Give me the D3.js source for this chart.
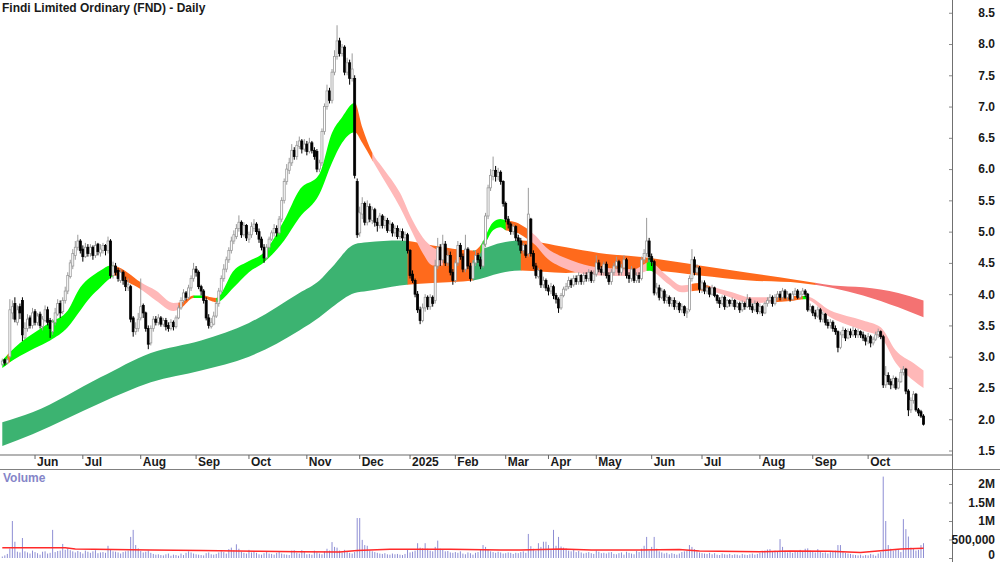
<!DOCTYPE html>
<html>
<head>
<meta charset="utf-8">
<script src="https://cdn.jsdelivr.net/npm/d3@7"></script>
<style>
  body { margin: 0; background: #fff; }
  text { font-family: "Liberation Sans Narrow", "Arial Narrow", "Liberation Sans", Arial, sans-serif; font-weight: bold; }
</style>
</head>
<body>
<div id="chart"></div>
<script>
// ---- data (one entry per trading day, May 2024 .. Oct 2025) ----
const opens = [2.88,2.95,2.90,3.00,3.70,3.85,3.55,3.80,3.90,3.30,
3.45,3.62,3.50,3.72,3.55,3.68,3.48,3.58,3.75,3.58,
3.40,3.55,3.68,3.85,3.72,3.90,4.05,4.28,4.45,4.62,
4.75,4.85,4.72,4.60,4.75,4.65,4.75,4.62,4.80,4.66,
4.70,4.78,4.70,4.85,4.30,4.45,4.38,4.22,4.35,4.22,
4.10,4.12,3.62,3.40,3.45,3.62,3.82,3.70,3.45,3.22,
3.45,3.60,3.55,3.62,3.52,3.58,3.50,3.45,3.55,3.48,
3.62,3.78,3.90,4.02,3.95,4.10,4.25,4.40,4.35,4.12,
4.05,3.90,3.62,3.48,3.52,3.65,3.85,4.05,4.25,4.40,
4.55,4.70,4.85,4.92,5.05,5.15,4.95,5.10,4.88,4.95,
5.05,5.12,5.00,4.88,4.75,4.58,4.75,4.88,4.98,5.05,
4.98,5.20,5.50,5.80,5.98,6.10,6.30,6.20,6.36,6.45,
6.32,6.40,6.28,6.42,6.30,6.28,6.00,6.10,6.60,7.00,
7.25,7.10,7.55,7.80,8.05,7.85,7.95,7.55,7.70,7.45,
7.45,5.80,4.98,5.28,5.45,5.15,5.40,5.18,5.35,5.15,
5.10,5.25,5.10,5.18,5.02,5.12,4.98,5.05,4.92,5.00,
4.90,4.95,4.70,4.32,4.22,4.00,3.75,3.58,3.78,3.95,
3.80,3.95,3.90,4.45,4.75,4.55,4.80,4.50,4.62,4.35,
4.22,4.50,4.78,4.60,4.40,4.72,4.45,4.25,4.50,4.62,
4.55,4.45,4.80,5.25,5.70,5.88,5.98,5.88,5.95,5.80,
5.45,5.20,5.12,5.00,5.08,4.90,4.85,4.70,4.78,4.65,
5.20,4.65,4.45,4.28,4.38,4.15,4.22,4.10,4.05,4.12,
3.98,3.92,3.78,3.98,4.08,4.12,4.22,4.15,4.25,4.20,
4.30,4.20,4.30,4.25,4.35,4.22,4.32,4.50,4.40,4.35,
4.48,4.30,4.20,4.35,4.45,4.52,4.35,4.42,4.55,4.30,
4.25,4.40,4.22,4.30,4.25,4.55,4.65,4.85,4.60,4.52,
4.02,4.10,3.95,4.05,3.90,3.95,3.85,3.90,3.80,3.85,
3.75,3.80,3.70,3.75,4.25,4.55,4.35,4.42,4.08,4.18,
4.05,4.10,4.00,4.10,3.98,3.90,3.85,3.95,3.80,3.90,
3.85,3.90,3.80,3.85,3.75,3.85,3.80,3.92,3.80,3.75,
3.85,3.72,3.80,3.70,3.85,3.90,3.95,3.85,3.95,4.00,
3.95,4.05,3.95,4.00,3.92,4.00,4.05,3.95,4.00,4.05,
4.00,3.75,3.80,3.70,3.65,3.75,3.60,3.68,3.55,3.50,
3.55,3.45,3.40,3.15,3.35,3.42,3.30,3.40,3.35,3.42,
3.35,3.40,3.35,3.30,3.25,3.32,3.22,3.28,3.35,3.40,
3.32,2.55,2.70,2.60,2.55,2.65,2.50,2.60,2.75,2.80,
2.45,2.15,2.30,2.40,2.15,2.12,2.05];

const highs = [2.97,2.97,2.98,3.92,3.90,3.95,3.82,3.85,3.95,3.55,
3.68,3.66,3.78,3.76,3.70,3.72,3.65,3.82,3.80,3.62,
3.60,3.78,3.92,3.90,3.95,4.12,4.35,4.55,4.72,4.85,
4.95,4.88,4.78,4.82,4.80,4.80,4.78,4.85,4.82,4.80,
4.82,4.80,4.92,4.88,4.52,4.50,4.42,4.40,4.38,4.28,
4.25,4.15,3.65,3.55,3.70,4.25,3.85,3.72,3.50,3.50,
3.65,3.65,3.68,3.65,3.62,3.62,3.55,3.60,3.58,3.66,
3.82,3.95,4.08,4.05,4.15,4.30,4.50,4.45,4.38,4.15,
4.08,3.95,3.68,3.62,3.72,3.90,4.10,4.30,4.48,4.60,
4.75,4.92,5.02,5.12,5.26,5.18,5.15,5.12,5.00,5.15,
5.20,5.15,5.05,4.92,4.80,4.80,4.92,5.02,5.12,5.10,
5.25,5.55,5.85,6.08,6.18,6.40,6.35,6.45,6.52,6.48,
6.48,6.45,6.50,6.45,6.35,6.32,6.15,6.65,7.05,7.35,
7.30,7.60,7.90,8.30,8.10,8.00,7.98,7.78,7.75,7.85,
7.50,5.85,5.40,5.55,5.48,5.50,5.45,5.40,5.38,5.22,
5.30,5.28,5.25,5.22,5.18,5.15,5.10,5.10,5.05,5.05,
5.00,4.98,4.72,4.38,4.25,4.05,3.80,3.85,4.00,3.98,
4.00,3.98,4.55,4.90,4.80,4.95,4.85,4.70,4.68,4.40,
4.55,4.85,4.82,4.65,4.95,4.75,4.50,4.55,4.70,4.66,
4.60,4.85,5.30,5.75,6.00,6.20,6.05,6.02,5.98,5.82,
5.48,5.25,5.15,5.12,5.10,4.95,4.90,4.82,4.80,5.70,
5.22,4.70,4.50,4.42,4.40,4.28,4.25,4.15,4.18,4.15,
4.02,3.95,4.02,4.12,4.18,4.28,4.25,4.30,4.30,4.35,
4.32,4.35,4.35,4.40,4.38,4.38,4.62,4.55,4.45,4.52,
4.52,4.35,4.40,4.50,4.60,4.55,4.48,4.62,4.58,4.35,
4.45,4.42,4.35,4.35,4.60,4.72,5.22,4.90,4.65,4.55,
4.18,4.15,4.10,4.08,4.00,3.98,3.95,3.95,3.90,3.88,
3.85,3.82,3.78,4.30,4.72,4.60,4.48,4.45,4.22,4.22,
4.15,4.12,4.15,4.12,4.00,3.95,3.98,3.98,3.92,3.92,
3.95,3.92,3.88,3.88,3.90,3.88,4.00,3.95,3.85,3.90,
3.88,3.85,3.82,3.88,3.95,4.00,3.98,4.00,4.05,4.05,
4.10,4.08,4.05,4.02,4.05,4.10,4.08,4.05,4.10,4.08,
4.02,3.85,3.82,3.75,3.80,3.78,3.72,3.70,3.60,3.60,
3.58,3.50,3.42,3.40,3.48,3.45,3.45,3.45,3.48,3.45,
3.45,3.42,3.40,3.35,3.38,3.35,3.32,3.40,3.45,3.42,
3.35,2.85,2.75,2.65,2.70,2.68,2.65,2.80,2.85,2.82,
2.48,2.35,2.45,2.42,2.18,2.15,2.08];

const lows = [2.85,2.86,2.88,2.98,3.60,3.55,3.50,3.60,3.25,3.28,
3.40,3.45,3.45,3.50,3.50,3.45,3.42,3.55,3.50,3.30,
3.35,3.50,3.65,3.62,3.68,3.85,4.00,4.25,4.40,4.55,
4.70,4.65,4.52,4.58,4.60,4.60,4.55,4.58,4.62,4.60,
4.65,4.62,4.65,4.25,4.25,4.30,4.20,4.18,4.15,4.05,
4.05,3.55,3.32,3.35,3.40,3.58,3.62,3.40,3.12,3.18,
3.40,3.50,3.50,3.48,3.48,3.42,3.40,3.42,3.42,3.45,
3.60,3.75,3.85,3.90,3.92,4.05,4.20,4.28,4.08,3.98,
3.85,3.58,3.45,3.45,3.50,3.62,3.80,4.00,4.20,4.35,
4.50,4.65,4.80,4.88,5.00,4.90,4.92,4.85,4.82,4.90,
5.00,4.95,4.82,4.70,4.50,4.55,4.70,4.85,4.92,4.92,
4.95,5.15,5.45,5.75,5.92,6.05,6.15,6.15,6.32,6.25,
6.28,6.22,6.25,6.25,6.15,5.95,5.95,6.05,6.55,6.95,
7.05,7.05,7.50,7.75,7.80,7.80,7.50,7.50,7.35,7.40,
5.85,4.90,4.92,5.20,5.10,5.10,5.15,5.12,5.08,5.00,
5.05,5.05,5.05,4.98,5.00,4.92,4.92,4.88,4.88,4.85,
4.85,4.65,4.25,4.18,3.95,3.70,3.52,3.55,3.72,3.75,
3.75,3.80,3.85,4.40,4.45,4.50,4.45,4.45,4.30,4.15,
4.18,4.45,4.55,4.35,4.35,4.40,4.20,4.22,4.45,4.50,
4.40,4.42,4.75,5.20,5.65,5.82,5.80,5.82,5.75,5.40,
5.15,5.05,4.95,4.95,4.85,4.78,4.65,4.65,4.58,4.60,
4.60,4.40,4.25,4.25,4.10,4.10,4.05,3.98,4.00,3.92,
3.85,3.70,3.75,3.95,4.05,4.08,4.10,4.12,4.15,4.15,
4.15,4.15,4.20,4.20,4.18,4.18,4.28,4.35,4.30,4.30,
4.25,4.15,4.15,4.30,4.40,4.30,4.30,4.38,4.25,4.18,
4.20,4.18,4.18,4.18,4.22,4.50,4.60,4.55,4.45,3.98,
3.98,3.90,3.92,3.85,3.85,3.80,3.80,3.75,3.75,3.70,
3.70,3.65,3.62,3.72,4.20,4.30,4.30,4.02,4.02,4.00,
4.00,3.95,3.98,3.95,3.85,3.78,3.82,3.75,3.78,3.80,
3.80,3.75,3.78,3.70,3.72,3.75,3.78,3.75,3.70,3.72,
3.68,3.68,3.65,3.68,3.80,3.85,3.80,3.82,3.90,3.90,
3.90,3.92,3.90,3.88,3.90,3.98,3.92,3.92,3.98,3.95,
3.72,3.72,3.65,3.60,3.62,3.55,3.55,3.50,3.45,3.45,
3.40,3.35,3.07,3.12,3.30,3.25,3.28,3.30,3.32,3.30,
3.30,3.30,3.25,3.18,3.20,3.15,3.18,3.25,3.30,3.28,
2.50,2.50,2.55,2.48,2.50,2.47,2.48,2.58,2.70,2.40,
2.05,2.10,2.25,2.12,2.05,2.02,1.90];

const closes = [2.93,2.90,2.95,3.75,3.80,3.60,3.75,3.70,3.35,3.45,
3.60,3.50,3.70,3.55,3.65,3.50,3.60,3.75,3.55,3.45,
3.55,3.70,3.85,3.70,3.90,4.05,4.30,4.50,4.65,4.75,
4.85,4.70,4.60,4.75,4.65,4.75,4.62,4.78,4.68,4.72,
4.78,4.70,4.85,4.30,4.45,4.35,4.25,4.35,4.22,4.12,
4.15,3.60,3.40,3.45,3.60,3.80,3.70,3.45,3.20,3.45,
3.60,3.55,3.62,3.52,3.58,3.48,3.45,3.55,3.48,3.62,
3.78,3.90,4.02,3.95,4.10,4.25,4.40,4.35,4.12,4.05,
3.90,3.62,3.50,3.55,3.65,3.85,4.05,4.25,4.40,4.55,
4.70,4.85,4.95,5.05,5.15,4.95,5.10,4.90,4.95,5.08,
5.12,5.00,4.88,4.75,4.58,4.75,4.88,4.98,5.05,4.98,
5.20,5.50,5.80,6.00,6.10,6.30,6.20,6.38,6.45,6.32,
6.40,6.28,6.42,6.30,6.20,6.00,6.10,6.60,7.00,7.25,
7.10,7.55,7.80,8.05,7.85,7.95,7.55,7.70,7.45,7.60,
5.90,4.95,5.30,5.45,5.15,5.40,5.20,5.35,5.15,5.10,
5.25,5.10,5.18,5.02,5.12,4.98,5.05,4.92,5.00,4.90,
4.95,4.70,4.30,4.22,4.00,3.75,3.58,3.78,3.95,3.80,
3.95,3.85,4.45,4.75,4.55,4.80,4.50,4.62,4.35,4.22,
4.50,4.78,4.60,4.40,4.72,4.45,4.25,4.50,4.62,4.55,
4.45,4.80,5.25,5.70,5.90,5.98,5.88,5.95,5.80,5.45,
5.20,5.12,5.00,5.08,4.90,4.85,4.70,4.78,4.62,5.28,
4.65,4.45,4.30,4.38,4.15,4.22,4.10,4.05,4.12,3.98,
3.92,3.78,3.98,4.08,4.12,4.22,4.15,4.25,4.20,4.30,
4.20,4.30,4.25,4.35,4.22,4.32,4.50,4.40,4.35,4.48,
4.30,4.20,4.35,4.45,4.52,4.35,4.42,4.55,4.30,4.25,
4.40,4.22,4.30,4.25,4.55,4.65,4.85,4.60,4.52,4.02,
4.10,3.95,4.05,3.90,3.95,3.85,3.90,3.80,3.85,3.75,
3.80,3.70,3.72,4.25,4.55,4.35,4.42,4.08,4.18,4.05,
4.10,4.00,4.10,3.98,3.90,3.85,3.95,3.80,3.90,3.85,
3.90,3.80,3.85,3.75,3.85,3.80,3.92,3.80,3.75,3.85,
3.72,3.80,3.70,3.85,3.90,3.95,3.85,3.95,4.00,3.95,
4.05,3.95,4.00,3.92,4.00,4.05,3.95,4.00,4.05,4.00,
3.75,3.80,3.70,3.65,3.75,3.60,3.68,3.55,3.50,3.55,
3.45,3.40,3.15,3.35,3.42,3.30,3.40,3.35,3.42,3.35,
3.40,3.35,3.30,3.25,3.32,3.22,3.28,3.35,3.40,3.32,
2.55,2.70,2.60,2.55,2.65,2.50,2.60,2.75,2.80,2.45,
2.15,2.30,2.40,2.15,2.10,2.05,1.92];

// volume, thousands of shares
const volumes = [40,70,110,260,1000,440,170,150,540,180,
150,120,200,160,130,90,170,180,120,140,
760,160,190,200,380,220,260,210,180,150,
190,160,120,200,170,140,180,210,130,150,
160,140,330,230,180,170,150,120,160,180,
200,570,760,350,260,190,150,170,200,140,
110,90,100,80,70,100,120,60,90,80,
60,120,80,140,180,150,120,100,90,80,
70,130,150,100,90,110,150,180,160,120,
240,280,210,370,250,170,140,120,220,150,
180,140,100,90,130,160,120,110,90,140,
180,120,100,90,80,200,210,140,120,210,
160,100,110,90,200,150,120,100,180,250,
200,430,300,280,200,150,220,160,140,120,
160,1080,1080,490,350,330,200,180,160,140,
120,110,130,100,90,120,100,110,90,80,
110,220,150,170,200,400,280,260,400,250,
200,180,300,470,250,220,180,190,150,140,
160,140,180,120,100,150,130,90,140,160,
220,350,300,240,180,160,140,170,150,120,
130,150,140,110,140,130,160,180,140,650,
320,250,200,400,300,440,440,350,240,760,
330,570,310,280,260,200,180,220,160,190,
150,120,140,160,130,110,200,170,130,140,
120,150,160,110,100,130,150,90,170,140,
120,100,190,160,250,330,570,200,300,570,
250,180,150,120,140,100,130,110,90,120,
160,180,200,350,300,240,180,150,130,120,
110,140,100,130,90,80,120,100,90,110,
80,100,90,70,110,90,80,100,120,90,
110,140,180,200,230,240,160,200,180,510,
300,200,150,180,140,170,160,220,190,250,
260,200,180,150,240,170,140,150,120,160,
180,200,350,350,180,140,120,110,90,80,
70,90,60,80,70,110,90,60,120,160,
2200,1000,350,250,200,240,220,160,1050,780,
580,280,250,200,220,350,400];

// volume moving average (thousands), read at these day indexes
const volAvgIdx = [0,25,29,59,79,102,118,134,141,154,178,198,206,222,234,253,269,277,301,313,329,341,350,357,366];
const volAvg    = [278,278,243,216,200,180,170,160,200,235,235,216,216,240,216,216,230,190,170,190,180,150,200,243,262];

// short-term ribbon edges
const fastIdx = [0,3,7,13,19,26,31,35,39,43,45,50,55,61,68,71,76,80,83,85,92,98,104,112,118,126,131,135,140,143,147,151,158,163,167,171,174,180,186,190,195,198,200,204,208,212,216,223,229,237,251,257,264,270,277,281,290,297,306,313,319,329,342,349,355,362,366];
const fastTop = [2.94,3.07,3.22,3.39,3.55,3.74,4.11,4.27,4.38,4.46,4.45,4.34,4.19,4.06,3.86,3.87,3.98,3.98,3.95,3.94,4.38,4.53,4.67,5.18,5.66,5.92,6.58,6.83,7.06,6.67,6.26,6.03,5.62,5.18,4.91,4.75,4.70,4.67,4.67,4.78,5.15,5.20,5.18,5.15,5.06,4.93,4.75,4.59,4.50,4.43,4.40,4.51,4.30,4.14,4.18,4.13,4.03,3.95,3.95,3.97,3.97,3.74,3.58,3.47,3.10,2.90,2.78];
const fastBot = [2.82,2.91,3.01,3.14,3.26,3.47,3.74,3.95,4.11,4.26,4.30,4.19,4.08,3.90,3.73,3.78,3.94,3.94,3.89,3.87,4.11,4.35,4.51,4.86,5.22,5.60,6.10,6.42,6.59,6.42,6.14,5.87,5.39,4.98,4.66,4.46,4.46,4.46,4.51,4.66,5.02,5.07,5.02,4.99,4.90,4.78,4.59,4.42,4.34,4.30,4.29,4.38,4.18,4.03,4.06,4.05,3.94,3.86,3.87,3.89,3.92,3.63,3.42,3.31,2.90,2.62,2.50];
const fastBreaks = [0,2,3,44,55,70,76,80,85,140,147,175,190,200,210,256,259,274,281,306,318,319.5,366];
const fastStates = ["up","mid","up","mid","down","mid","up","mid","up","mid","down","mid","up","mid","down","up","down","mid","down","mid","up","down"];

// long-term ribbon edges
const slowIdx = [0,12,39,59,79,98,118,126,131,140,145,158,171,187,198,206,224,237,257,277,297,317,330,342,356,366];
const slowTop = [1.95,2.11,2.67,3.06,3.26,3.54,4.02,4.22,4.43,4.80,4.83,4.86,4.78,4.70,4.82,4.86,4.75,4.66,4.58,4.46,4.34,4.22,4.14,4.11,4.02,3.90];
const slowBot = [1.57,1.76,2.26,2.59,2.78,3.00,3.42,3.63,3.79,4.02,4.05,4.14,4.18,4.22,4.34,4.38,4.34,4.38,4.38,4.30,4.22,4.18,4.10,3.98,3.79,3.63];
const slowBreaks = [0,161,187,206,256.5,258.5,323,366];
const slowStates = ["up","mid","up","mid","up","mid","down"];

// axis labels
const priceTicks = [1.5,2,2.5,3,3.5,4,4.5,5,5.5,6,6.5,7,7.5,8,8.5];
const volTicks = [0,500000,1000000,1500000,2000000];
const volTickLabels = ["0","500,000","1M","1.5M","2M"];
const monthLabels = ["Jun","Jul","Aug","Sep","Oct","Nov","Dec","2025","Feb","Mar","Apr","May","Jun","Jul","Aug","Sep","Oct"];
const monthStart = [13,32,55,77,98,121,142,162,180,200,217,236,258,278,301,322,344];

const fastColor = {up: "#00ff00", mid: "#ff6a1c", down: "#ffb8b8"};
const slowColor = {up: "#3cb371", mid: "#ff6a1c", down: "#f47272"};

// ---- layout ----
const axisX = 952;

const x = d3.scaleLinear().domain([0, 366]).range([2.3, 923.5]);
const y = d3.scaleLinear().domain([1.5, 8.5]).range([450.5, 12.75]);
const yv = d3.scaleLinear().domain([0, 2000000]).range([558, 484]);

const svg = d3.select("#chart")
              .append("svg")
              .attr("width", 1000)
              .attr("height", 562);

const defs = svg.append("defs");
defs.append("clipPath").attr("id", "price-clip")
    .append("rect").attr("x", 0).attr("y", 0).attr("width", axisX).attr("height", 454);

const plot = svg.append("g").attr("clip-path", "url(#price-clip)");

function drawRibbon(name, idx, top, bot, breaks, states, colors) {
  const pts = idx.map((d, k) => ({i: d, t: top[k], b: bot[k]}));
  const area = d3.area()
                 .x(d => x(d.i))
                 .y0(d => y(d.b))
                 .y1(d => y(d.t))
                 .curve(d3.curveMonotoneX);
  const g = plot.append("g");
  states.forEach((s, k) => {
    const id = `${name}-${k}`;
    const x0 = k === 0 ? 0 : x(breaks[k]);
    const x1 = k === states.length - 1 ? axisX : x(breaks[k + 1]) + 0.6;
    defs.append("clipPath").attr("id", id)
        .append("rect").attr("x", x0).attr("y", 0).attr("width", x1 - x0).attr("height", 454);
    g.append("path")
     .datum(pts)
     .attr("d", area)
     .attr("fill", colors[s])
     .attr("clip-path", `url(#${id})`);
  });
}

drawRibbon("slow", slowIdx, slowTop, slowBot, slowBreaks, slowStates, slowColor);
drawRibbon("fast", fastIdx, fastTop, fastBot, fastBreaks, fastStates, fastColor);

// candles
const candles = closes.map((c, i) => ({i, o: opens[i], h: highs[i], l: lows[i], c}));
const cg = plot.append("g");

cg.selectAll(".wick")
  .data(candles)
  .enter()
  .append("line")
  .attr("x1", d => x(d.i))
  .attr("x2", d => x(d.i))
  .attr("y1", d => y(Math.max(d.h, d.o, d.c)))
  .attr("y2", d => y(Math.min(d.l, d.o, d.c)))
  .attr("stroke", d => d.c >= d.o ? "#9a9a9a" : "#000")
  .attr("stroke-width", 1);

cg.selectAll(".body")
  .data(candles)
  .enter()
  .append("rect")
  .attr("x", d => x(d.i) - 1)
  .attr("width", 2)
  .attr("y", d => y(Math.max(d.o, d.c)))
  .attr("height", d => Math.max(1, Math.abs(y(d.o) - y(d.c))))
  .attr("fill", d => d.c >= d.o ? "#fff" : "#000")
  .attr("stroke", d => d.c >= d.o ? "#9a9a9a" : "#000")
  .attr("stroke-width", 0.8);

// volume
svg.append("g")
   .selectAll("line")
   .data(volumes)
   .enter()
   .append("line")
   .attr("x1", (d, i) => x(i))
   .attr("x2", (d, i) => x(i))
   .attr("y1", yv(0))
   .attr("y2", d => yv(d * 1000))
   .attr("stroke", "#8e8ed4")
   .attr("stroke-width", 1);

svg.append("path")
   .datum(volAvgIdx.map((d, k) => [d, volAvg[k]]))
   .attr("d", d3.line().x(d => x(d[0])).y(d => yv(d[1] * 1000)))
   .attr("fill", "none")
   .attr("stroke", "#ff2a2a")
   .attr("stroke-width", 1.5);

// frame lines
svg.append("line").attr("x1", 0).attr("x2", axisX).attr("y1", 455).attr("y2", 455)
   .attr("stroke", "#b4b4b4").attr("stroke-width", 2);
svg.append("line").attr("x1", 0).attr("x2", 1000).attr("y1", 469.5).attr("y2", 469.5)
   .attr("stroke", "#808080").attr("stroke-width", 1);
svg.append("line").attr("x1", axisX + 0.5).attr("x2", axisX + 0.5).attr("y1", 0).attr("y2", 562)
   .attr("stroke", "#707070").attr("stroke-width", 1);

// price axis
svg.append("g")
   .attr("transform", `translate(${axisX},0)`)
   .call(d3.axisLeft(y).tickValues(priceTicks).tickSize(3).tickFormat(d3.format(".1f")))
   .call(g => g.select(".domain").remove())
   .call(g => g.selectAll(".tick line").attr("stroke", "#888"))
   .call(g => g.selectAll("text")
               .attr("x", 43)
               .attr("text-anchor", "end")
               .attr("fill", "#1a1a1a")
               .style("font-size", "12px"));

// volume axis (the "0" label is lifted a little so it stays inside the page)
svg.append("g")
   .attr("transform", `translate(${axisX},0)`)
   .call(d3.axisLeft(yv).tickValues(volTicks).tickSize(3).tickFormat((d, k) => volTickLabels[k]))
   .call(g => g.select(".domain").remove())
   .call(g => g.selectAll(".tick line").attr("stroke", "#888"))
   .call(g => g.selectAll("text")
               .attr("x", 43)
               .attr("text-anchor", "end")
               .attr("dy", d => d === 0 ? "0.05em" : "0.32em")
               .attr("fill", "#1a1a1a")
               .style("font-size", "12px"));

// month axis
const months = svg.append("g");
monthStart.forEach((m, k) => {
  const mx = x(m);
  months.append("line")
        .attr("x1", mx).attr("x2", mx).attr("y1", 455).attr("y2", 459)
        .attr("stroke", "#666");
  months.append("text")
        .attr("x", mx + 2)
        .attr("y", 466)
        .attr("fill", "#1a1a1a")
        .style("font-size", "12px")
        .text(monthLabels[k]);
});

// titles
svg.append("text")
   .attr("x", 2)
   .attr("y", 12)
   .attr("fill", "#1a1a1a")
   .style("font-size", "12px")
   .text("Findi Limited Ordinary (FND) - Daily");

svg.append("text")
   .attr("x", 3)
   .attr("y", 482)
   .attr("fill", "#8585c8")
   .style("font-size", "12px")
   .text("Volume");
</script>
</body>
</html>
